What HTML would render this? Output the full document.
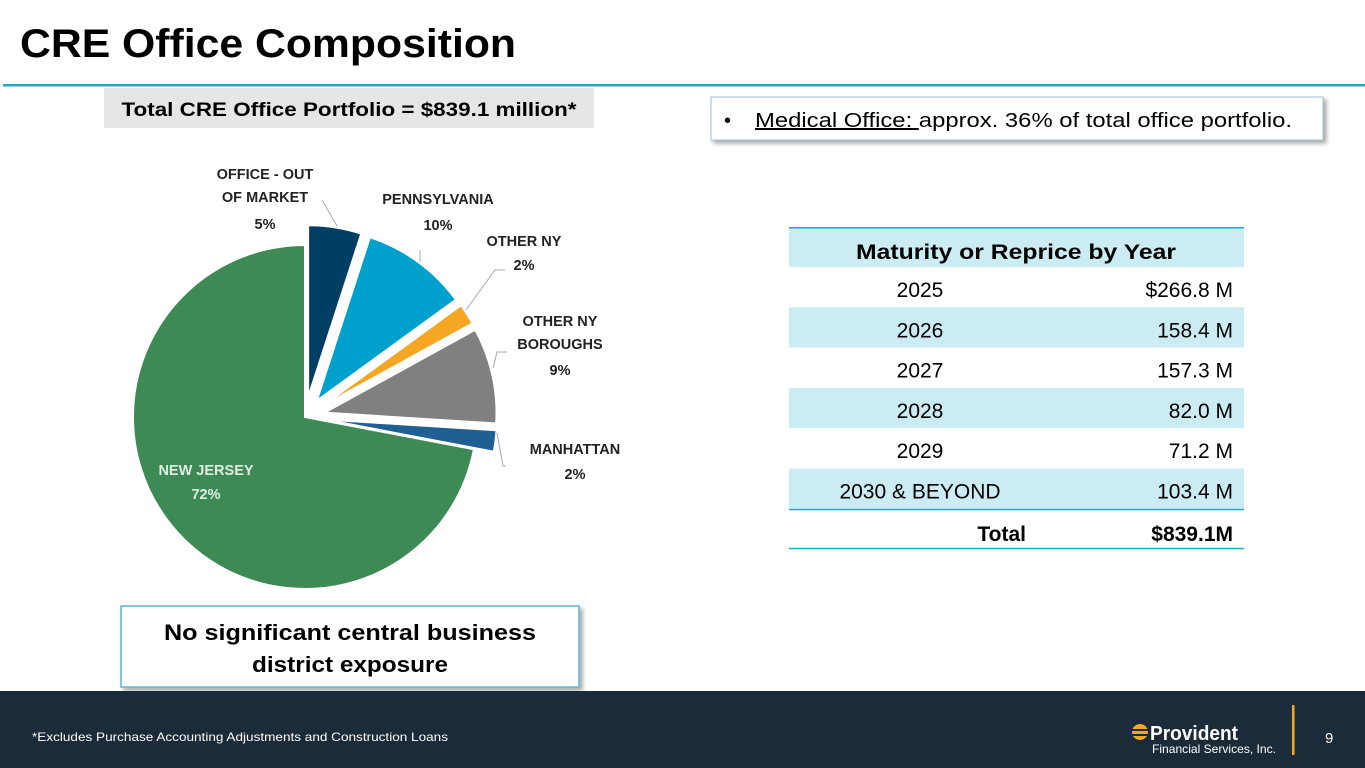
<!DOCTYPE html>
<html><head><meta charset="utf-8"><style>
html,body{margin:0;padding:0;background:#fff;}
svg{display:block;font-family:"Liberation Sans",sans-serif;}
</style></head><body>
<svg id="slide" width="1365" height="768" viewBox="0 0 1365 768">
<defs><filter id="sh" x="-5%" y="-10%" width="115%" height="130%"><feDropShadow dx="3" dy="3" stdDeviation="2" flood-color="#000" flood-opacity="0.35"/></filter></defs>
<text x="20" y="57" font-size="40" font-weight="bold" fill="#000" textLength="496" lengthAdjust="spacingAndGlyphs">CRE Office Composition</text>
<rect x="3" y="84" width="1362" height="2.5" fill="#27a4c9"/>
<rect x="104" y="88" width="490" height="40" fill="#e6e6e6"/>
<text x="349" y="116" font-size="19" font-weight="bold" text-anchor="middle" textLength="455" lengthAdjust="spacingAndGlyphs">Total CRE Office Portfolio = $839.1 million*</text>
<g>
<rect x="711" y="97" width="612" height="43" fill="#fff" stroke="#9dc3d8" stroke-width="1" filter="url(#sh)"/>
<text x="724" y="127" font-size="20" fill="#000">•</text>
<text x="755" y="127" font-size="20" fill="#000" textLength="537" lengthAdjust="spacingAndGlyphs"><tspan text-decoration="underline">Medical Office: </tspan>approx. 36% of total office portfolio.</text>
</g>
<g id="pie"></g>
<g id="table"></g>
<g>
<rect x="121" y="606" width="458" height="81" fill="#fff" stroke="#5fb3d0" stroke-width="1.5" filter="url(#sh)"/>
<text x="350" y="640" font-size="22" font-weight="bold" text-anchor="middle" textLength="372" lengthAdjust="spacingAndGlyphs">No significant central business</text>
<text x="350" y="672" font-size="22" font-weight="bold" text-anchor="middle" textLength="196" lengthAdjust="spacingAndGlyphs">district exposure</text>
</g>
<rect x="0" y="691" width="1365" height="77" fill="#1c2b3a"/>
<text x="32" y="741" font-size="12" fill="#fff" textLength="416" lengthAdjust="spacingAndGlyphs">*Excludes Purchase Accounting Adjustments and Construction Loans</text>
<g>
<circle cx="1140" cy="732" r="8" fill="#f5a623"/>
<rect x="1130" y="729" width="20" height="2" fill="#1c2b3a"/><rect x="1130" y="734" width="20" height="2" fill="#1c2b3a"/>
<text x="1150" y="740" font-size="20" font-weight="bold" fill="#fff" textLength="88" lengthAdjust="spacingAndGlyphs">Provident</text>
<text x="1152" y="753" font-size="12" fill="#fff" textLength="124" lengthAdjust="spacingAndGlyphs">Financial Services, Inc.</text>
</g>
<rect x="1292" y="705" width="2.5" height="50" fill="#f5a623"/>
<text x="1325" y="743" font-size="15" fill="#fff">9</text>
</svg>
<script>
const NS="http://www.w3.org/2000/svg";
const sliceNames=["OFFICE - OUT OF MARKET","PENNSYLVANIA","OTHER NY","OTHER NY BOROUGHS","MANHATTAN","NEW JERSEY"];
const sliceValues=[5,10,2,9,2,72];
const sliceColors=["#003f63","#00a0cc","#f5a623","#808080","#1f5f94","#3e8a55"];
const years=["2025","2026","2027","2028","2029","2030 & BEYOND"];
const amounts=["$266.8 M","158.4 M","157.3 M","82.0 M","71.2 M","103.4 M"];
const totalLabel="$839.1M";
function mk(t,a,p){const e=document.createElementNS(NS,t);for(const k in a)e.setAttribute(k,a[k]);(p||document.getElementById('slide')).appendChild(e);return e;}
const pie=document.getElementById('pie');
const cx=305,cy=417,R=172,ex=20;
const tot=sliceValues.reduce((a,b)=>a+b,0);
let acc=0;
sliceValues.forEach((v,i)=>{
 const a0=acc/tot*2*Math.PI;acc+=v;const a1=acc/tot*2*Math.PI;const am=(a0+a1)/2;
 const d=i===5?0:ex;
 const ox=cx+d*Math.sin(am),oy=cy-d*Math.cos(am);
 const x0=ox+R*Math.sin(a0),y0=oy-R*Math.cos(a0),x1=ox+R*Math.sin(a1),y1=oy-R*Math.cos(a1);
 const p=mk('path',{d:`M${ox},${oy}L${x0},${y0}A${R},${R} 0 ${a1-a0>Math.PI?1:0} 1 ${x1},${y1}Z`,fill:sliceColors[i],stroke:'#fff','stroke-width':2},pie);
 
 
});
const lbl=[
 {x:265,ys:[179,202,229],t:["OFFICE - OUT","OF MARKET",sliceValues[0]+"%"],c:"#222",l:"M322,200 L337,226"},
 {x:438,ys:[204,230],t:["PENNSYLVANIA",sliceValues[1]+"%"],c:"#222",l:"M420,250 L420,262"},
 {x:524,ys:[246,270],t:["OTHER NY",sliceValues[2]+"%"],c:"#222",l:"M505,270 L495,270 L466,310"},
 {x:560,ys:[326,349,375],t:["OTHER NY","BOROUGHS",sliceValues[3]+"%"],c:"#222",l:"M507,352 L497,352 L493,368"},
 {x:575,ys:[454,479],t:["MANHATTAN",sliceValues[4]+"%"],c:"#222",l:"M506,466 L503,466 L497,433"},
 {x:206,ys:[475,499],t:["NEW JERSEY",sliceValues[5]+"%"],c:"#dfeee3",l:null}];
lbl.forEach((L,i)=>{
 if(L.l){const ln=mk('path',{d:L.l,fill:'none',stroke:'#aaa','stroke-width':1},pie);}
 L.t.forEach((s,j)=>{const t=mk('text',{x:L.x,y:L.ys[j],'font-size':14.5,'font-weight':'bold','text-anchor':'middle',fill:L.c},pie);t.textContent=s;
 });
});
const tb=document.getElementById('table');
const tx=789,tw=455;
const hb=mk('rect',{x:tx,y:228,width:tw,height:39,fill:'#ccecf4'},tb);
mk('rect',{x:tx,y:227,width:tw,height:1.5,fill:'#27a4c9'},tb);
const ht=mk('text',{x:1016,y:259,'font-size':21,'font-weight':'bold','text-anchor':'middle',textLength:320,lengthAdjust:'spacingAndGlyphs'},tb);ht.textContent="Maturity or Reprice by Year";

const rowTop=267,rowH=40.3;
years.forEach((y,i)=>{
 const top=rowTop+i*rowH;
 if(i%2===1){const r=mk('rect',{x:tx,y:top,width:tw,height:rowH,fill:'#ccecf4'},tb);}
 const a=mk('text',{x:920,y:top+30,'font-size':21,'text-anchor':'middle'},tb);a.textContent=y;
 
 const b=mk('text',{x:1233,y:top+30,'font-size':21,'text-anchor':'end'},tb);b.textContent=amounts[i];
 
});
const bot=rowTop+years.length*rowH;
mk('rect',{x:tx,y:bot,width:tw,height:1.5,fill:'#27a4c9'},tb);
const t1=mk('text',{x:1026,y:bot+32,'font-size':21,'font-weight':'bold','text-anchor':'end'},tb);t1.textContent="Total";

const t2=mk('text',{x:1233,y:bot+32,'font-size':21,'font-weight':'bold','text-anchor':'end'},tb);t2.textContent=totalLabel;

mk('rect',{x:tx,y:bot+39,width:tw,height:1.5,fill:'#27a4c9'},tb);
</script>
</body></html>
